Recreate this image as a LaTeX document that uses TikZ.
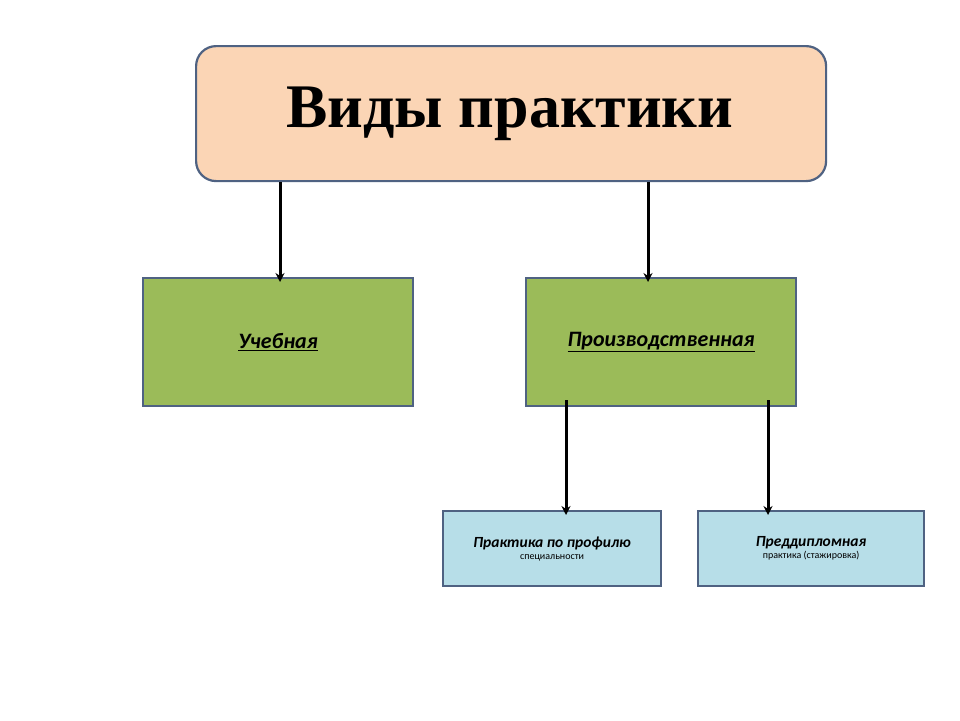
\documentclass[tikz,border=0pt]{standalone}
\usepackage{fontspec}
\setmainfont{Carlito}
\newfontfamily\titlefont{Liberation Serif}
\usetikzlibrary{arrows.meta}
\definecolor{edge}{HTML}{4F6282}
\definecolor{peach}{HTML}{FBD5B5}
\definecolor{grn}{HTML}{9BBB59}
\definecolor{lblue}{HTML}{B7DEE8}
\begin{document}
\begin{tikzpicture}[x=1pt,y=-1pt,
  box/.style={draw=edge,line width=2.2pt,anchor=north west,inner sep=0pt},
  arr/.style={line width=3pt,-{Stealth[length=9pt,width=9pt]}}]
\useasboundingbox[fill=white] (0,0) rectangle (960,720);
\node[box,fill=peach,rounded corners=20pt,minimum width=630pt,minimum height=135pt] (t) at (195,45) {};
\node at (510,114) {\titlefont\bfseries\fontsize{62}{70}\selectfont Виды практики};
\node[box,fill=grn,minimum width=270pt,minimum height=128pt] (u) at (142,277) {};
\node at (u.center) {\bfseries\itshape\fontsize{22}{26}\selectfont\underline{Учебная}};
\node[box,fill=grn,minimum width=270pt,minimum height=128pt] (p) at (525,277) {};
\node at (p.center) {\bfseries\itshape\fontsize{22}{26}\selectfont\underline{Производственная}};
\node[box,fill=lblue,minimum width=218pt,minimum height=75pt] (a) at (442,510) {};
\node[align=center] at (a.center) {\bfseries\itshape\fontsize{15.5}{24}\selectfont Практика по профилю\\специальности};
\node[box,fill=lblue,minimum width=226pt,minimum height=75pt] (b) at (697,510) {};
\node[align=center] at (b.center) {\bfseries\itshape\fontsize{15.5}{24}\selectfont Преддипломная\\практика (стажировка)};
\draw[arr] (t.south -| 280,0) -- ([yshift=-5pt]u.north -| 280,0);
\draw[arr] (t.south -| 648,0) -- ([yshift=-5pt]p.north -| 648,0);
\draw[arr] ([yshift=7pt]p.south -| 566,0) -- ([yshift=-5pt]a.north -| 566,0);
\draw[arr] ([yshift=7pt]p.south -| 768,0) -- ([yshift=-5pt]b.north -| 768,0);
\end{tikzpicture}
\end{document}
